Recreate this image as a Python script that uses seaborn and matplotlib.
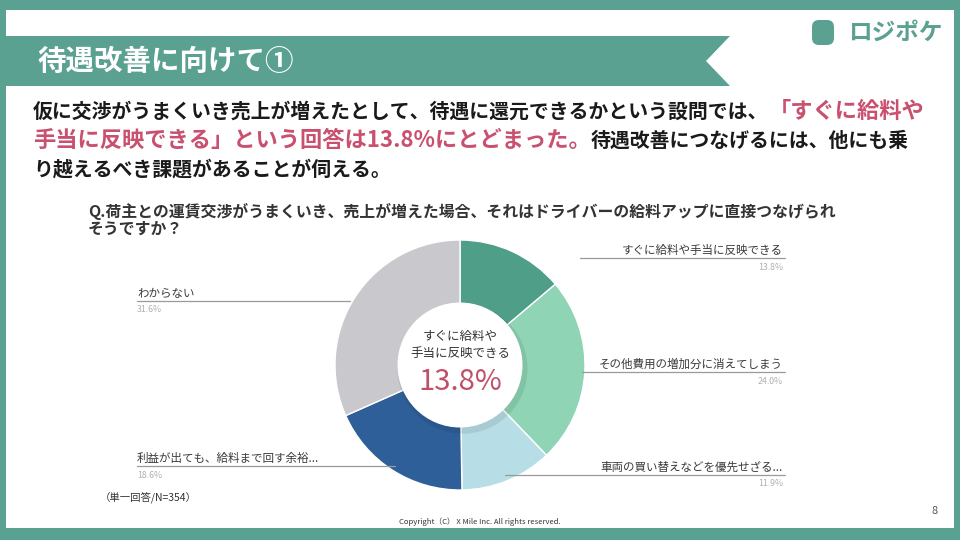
import matplotlib
matplotlib.use("Agg")
import matplotlib.pyplot as plt
import seaborn as sns
from matplotlib.patches import Polygon, Rectangle, Circle, FancyBboxPatch

# data
labels = ["すぐに給料や手当に反映できる", "その他費用の増加分に消えてしまう",
          "車両の買い替えなどを優先せざる...", "利益が出ても、給料まで回す余裕...", "わからない"]
values = [13.8, 24.0, 11.9, 18.6, 31.6]
colors = ["#4f9f88", "#8fd4b4", "#b7dde6", "#2f5f99", "#c9c9cd"]

TEAL = "#5aa191"
PINK = "#c9506f"
DARK = "#1a1a1a"

sns.set_theme(style="white")
plt.rcParams["font.family"] = ["Noto Sans CJK JP", "DejaVu Sans"]

fig = plt.figure(figsize=(9.6, 5.4), dpi=100)

# pie first, background/text layer drawn on top
cx, cy, r = 460, 365, 125
pie_ax = fig.add_axes([(cx - r) / 960, (540 - cy - r) / 540, 2 * r / 960, 2 * r / 540])
pie_ax.pie(values, colors=colors, startangle=90, counterclock=False, radius=1,
           wedgeprops=dict(edgecolor="white", linewidth=1))
pie_ax.set_xlim(-1, 1)
pie_ax.set_ylim(-1, 1)
pie_ax.set_aspect("auto")
pie_ax.axis("off")
pie_ax.add_patch(Circle((0.02, -0.03), 0.52, color="#000000", alpha=0.08, lw=0))
pie_ax.add_patch(Circle((0, 0), 0.5, color="white", lw=0))

bg = fig.add_axes([0, 0, 1, 1])
bg.set_xlim(0, 960)
bg.set_ylim(540, 0)
bg.axis("off")
bg.set_zorder(2)

# frame
bg.add_patch(Rectangle((0, 0), 960, 10, color=TEAL, lw=0))
bg.add_patch(Rectangle((0, 0), 6, 540, color=TEAL, lw=0))
bg.add_patch(Rectangle((954, 0), 6, 540, color=TEAL, lw=0))
bg.add_patch(Rectangle((0, 528), 960, 12, color=TEAL, lw=0))

# title bar
bg.add_patch(Polygon([(6, 36), (730, 36), (706, 61), (730, 86), (6, 86)], closed=True, color=TEAL, lw=0))
bg.text(37, 62, "待遇改善に向けて①", color="white", fontsize=20.5, fontweight="bold", va="center")

# logo
bg.add_patch(FancyBboxPatch((812, 20), 22, 25, boxstyle="round,pad=0,rounding_size=7", color=TEAL, lw=0))
bg.text(848, 33, "ロジポケ", color=TEAL, fontsize=17, fontweight="bold", va="center")

fig.canvas.draw()
renderer = fig.canvas.get_renderer()


def chain(x, y, parts):
    # consecutive text runs on one baseline
    for txt, col, size in parts:
        t = bg.text(x, y, txt, color=col, fontsize=size, fontweight="bold", va="baseline")
        bb = t.get_window_extent(renderer)
        x = bg.transData.inverted().transform((bb.x1, bb.y0))[0]


body, hl = 14.3, 16
chain(33, 118, [("仮に交渉がうまくいき売上が増えたとして、待遇に還元できるかという設問では、", DARK, body),
                ("「すぐに給料や", PINK, hl)])
chain(33, 147, [("手当に反映できる」という回答は13.8%にとどまった。", PINK, hl),
                ("待遇改善につなげるには、他にも乗", DARK, body)])
chain(33, 175, [("り越えるべき課題があることが伺える。", DARK, body)])

bg.text(88, 211, "Q.荷主との運賃交渉がうまくいき、売上が増えた場合、それはドライバーの給料アップに直接つなげられ",
        fontsize=11.4, fontweight="bold", color="#333333", va="center")
bg.text(88, 229, "そうですか？", fontsize=11.4, fontweight="bold", color="#333333", va="center")

# center label
bg.text(460, 336, "すぐに給料や", fontsize=9, color="#333333", ha="center", va="center")
bg.text(460, 353, "手当に反映できる", fontsize=9, color="#333333", ha="center", va="center")
bg.text(460, 382, f"{values[0]}%", fontsize=21, color="#c0506a", ha="center", va="center")

# leader labels
right_labels = [(0, 250, 580), (1, 364, 582), (2, 467, 505)]
for i, ty, x0 in right_labels:
    bg.text(783, ty, labels[i], fontsize=8.3, color="#3a3a3a", ha="right", va="center")
    bg.plot([x0, 785], [ty + 8, ty + 8], color="#9a9a9a", lw=0.9)
    bg.text(783, ty + 17, f"{values[i]}%", fontsize=6.3, color="#b0b0b0", ha="right", va="center")

left_labels = [(4, 293, 350), (3, 458, 395)]
for i, ty, x1 in left_labels:
    bg.text(137, ty, labels[i], fontsize=8.3, color="#3a3a3a", ha="left", va="center")
    bg.plot([137, x1], [ty + 8, ty + 8], color="#9a9a9a", lw=0.9)
    bg.text(137, ty + 17, f"{values[i]}%", fontsize=6.3, color="#b0b0b0", ha="left", va="center")

bg.text(100, 498, "（単一回答/N=354）", fontsize=7.5, color="#333333", va="center")
bg.text(480, 522, "Copyright（C） X Mile Inc. All rights reserved.", fontsize=5.5, color="#333333",
        ha="center", va="center")
bg.text(935, 511, "8", fontsize=8, color="#555555", ha="center", va="center")

fig.savefig("out.png", dpi=100)
